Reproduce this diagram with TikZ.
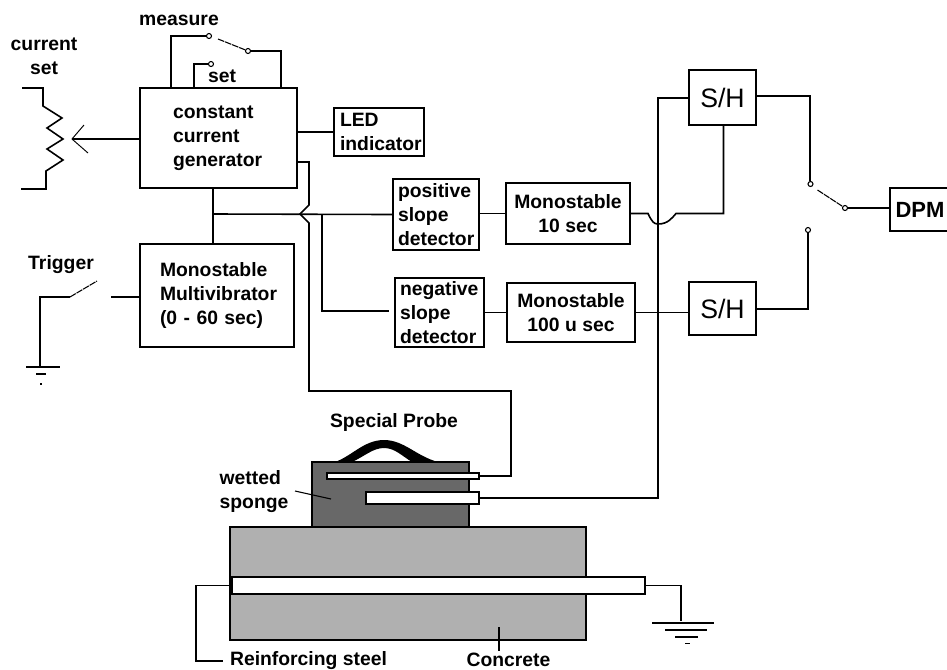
\documentclass[tikz,border=0pt]{standalone}
\usepackage{fontspec}
\setmainfont{Liberation Sans}
\usepackage{xcolor}
\usetikzlibrary{calc}
\definecolor{GrisEsponja}{RGB}{104,104,104}
\definecolor{GrisConcreto}{RGB}{176,176,176}
\def\px{0.75pt}
\tikzset{
  blok/.style={draw,line width=1.2pt,inner ysep=0pt,font=\fontsize{14.5}{18}\selectfont\bfseries},
  etiq/.style={inner sep=0pt,font=\fontsize{14.5}{18}\selectfont\bfseries,align=center},
  contacto/.style={circle,draw,line width=0.8pt,fill=white,inner sep=0pt,minimum size=5*\px},
  cable/.style={line width=1.2pt},
  cuchilla/.style={line width=0.8pt,dash pattern=on 5pt off 0.7pt},
  tierra/.style={line width=1.2pt}
}
\begin{document}
\begin{tikzpicture}[x=\px,y=-\px]
  \useasboundingbox (0,0) rectangle (947,669);
  % blocks
  \node[blok,align=left,minimum width=157*\px,minimum height=100*\px,text width=91*\px,inner xsep=33*\px] (ccg) at (218.5,138) {constant\\current\\generator};
  \node[blok,align=left,minimum width=90*\px,minimum height=48*\px,text width=78*\px,inner xsep=6*\px] (led) at (379,132) {LED\\indicator};
  \node[blok,align=left,minimum width=154*\px,minimum height=103*\px,text width=114*\px,inner xsep=20*\px] (multi) at (217,295.5) {Monostable\\Multivibrator\\(0 - 60 sec)};
  \node[blok,align=left,minimum width=86*\px,minimum height=71*\px,text width=76*\px,inner xsep=5*\px] (pos) at (436,214.5) {positive\\slope\\detector};
  \node[blok,align=left,minimum width=89*\px,minimum height=69*\px,text width=79*\px,inner xsep=5*\px] (neg) at (439.5,312.5) {negative\\slope\\detector};
  \node[blok,align=center,minimum width=124*\px,minimum height=61*\px] (monoa) at (568,213.5) {Monostable\\10 sec};
  \node[blok,align=center,minimum width=128*\px,minimum height=59*\px] (monob) at (571,312.5) {Monostable\\100 u sec};
  \node[blok,font=\fontsize{20}{24}\selectfont,minimum width=67*\px,minimum height=55*\px] (sha) at (722.5,97.5) {S/H};
  \node[blok,font=\fontsize{20}{24}\selectfont,minimum width=67*\px,minimum height=53*\px] (shb) at (722.5,308.5) {S/H};
  \node[blok,font=\fontsize{16.5}{20}\selectfont\bfseries,minimum width=60*\px,minimum height=43*\px] (dpm) at (920,209.5) {DPM};
  % probe and concrete
  \fill[draw=black,line width=1.2pt,fill=GrisConcreto] (230,527) rectangle (586,640);
  \fill[draw=black,line width=1.2pt,fill=GrisEsponja] (312,462) rectangle (469,527);
  \fill (335,462) .. controls (352,456) and (364,440) .. (384,440) .. controls (404,440) and (416,456) .. (438,462) -- (412,462) .. controls (402,456) and (395,448) .. (384,448) .. controls (373,448) and (365,456) .. (352,462) -- cycle;
  \node[draw,line width=0.9pt,fill=white,minimum width=152*\px,minimum height=6*\px,inner sep=0pt] (elea) at (403,476) {};
  \node[draw,line width=0.9pt,fill=white,minimum width=113*\px,minimum height=12*\px,inner sep=0pt] (eleb) at (422.5,498) {};
  \node[draw,line width=1.2pt,fill=white,minimum width=413*\px,minimum height=17*\px,inner sep=0pt] (acero) at (438.5,585.5) {};
  \draw[line width=2.4pt] (acero.north west) -- (acero.south west);
  % current set pot
  \coordinate (pa) at (22,88);
  \coordinate (pb) at (21,189);
  \coordinate (pm) at (72,139);
  \draw[cable] (pa) -- (43,88) -- (43,106) -- (62,118) -- (47,128) -- (63,139) -- (47,149) -- (63,160) -- (46,171) -- (46,189) -- (pb);
  \draw[cable] (ccg.west |- pm) -- (pm);
  \draw[line width=0.7pt] (84,125) -- (pm) -- (88,153);
  % measure / set switch
  \node[contacto] (cma) at (209,36) {};
  \node[contacto] (cmb) at (248,51) {};
  \node[contacto] (cset) at (211,64) {};
  \draw[cable] (ccg.north -| 171,0) -- (171,36) -- (cma);
  \draw[cable] (cmb) -- (281,51) -- (ccg.north -| 281,0);
  \draw[cable] (ccg.north -| 194,0) -- (194,64) -- (cset);
  \draw[cuchilla] (218,39) -- (cmb);
  % links
  \draw[cable] (ccg.east |- led.west) -- (led.west);
  \draw[cable] (ccg.south -| 213,0) -- (multi.north -| 213,0);
  \draw[cable] (213,214) -- (pos.west);
  \draw[cable] (322,214) -- (322,311) -- (389,311);
  \draw[cable] (296,162) -- (309,162) -- (309,205) -- (300,214) -- (309,223) -- (309,391) -- (511,391) -- (511,476) -- (elea.east);
  \draw[cable] (pos.east |- monoa.west) -- (monoa.west);
  \draw[cable] (neg.east) -- (monob.west |- neg.east);
  \draw[cable] (monoa.east) -- (648,213.5) .. controls (652,222) and (654,224) .. (658,224) .. controls (668,224) and (672,218) .. (676,213.5) -- (723.5,213.5) -- (sha.south -| 723.5,0);
  \draw[cable] (monob.east) -- (monob.east -| shb.west);
  \draw[cable] (sha.west |- 0,98) -- (658,98) -- (658,498) -- (eleb.east);
  \draw[cable] (sha.east |- 0,96) -- (810,96) -- (810,181);
  \node[contacto] (csa) at (810.5,184) {};
  \node[contacto] (csb) at (845,208) {};
  \node[contacto] (csc) at (808,230) {};
  \draw[cuchilla] (817.5,190) -- (csb);
  \draw[cable] (csb) -- (csb -| dpm.west);
  \draw[cable] (csc) -- (808,309) -- (shb.east |- 0,309);
  % trigger
  \node[etiq] (trig) at (61,265) {Trigger};
  \coordinate (ta) at (70,297);
  \coordinate (tb) at (97,281);
  \coordinate (tc) at (111,297);
  \draw[cable] (ta) -- (40,297) -- (40,367);
  \draw[cuchilla] (ta) -- (tb);
  \draw[cable] (tc) -- (tc -| multi.west);
  \draw[tierra] (26,367) -- (60,367) (36,374) -- (46,374) (40,384) -- (42,384);
  % ground and steel wires
  \draw[cable] (acero.west) -- (196,585.5) -- (196,661) -- (223,661);
  \draw[cable] (acero.east) -- (681,585.5) -- (681,621);
  \draw[tierra] (652,623) -- (714,623) (665,630) -- (707,630) (675,637) -- (698,637) (685,643.5) -- (690,643.5);
  \draw[cable] (499,627) -- (499,651);
  \draw[line width=0.8pt] (295,491) -- (331,499);
  % labels
  \node[etiq] (lmeas) at (179,20) {measure};
  \node[etiq] (lcurr) at (44,56) {current\\set};
  \node[etiq] (lset) at (222,76) {set};
  \node[etiq] (lprobe) at (394,422) {Special Probe};
  \node[etiq,align=left] (lsponge) at (254,492) {wetted\\sponge};
  \node[etiq] (lsteel) at (308.5,661) {Reinforcing steel};
  \node[etiq] (lconc) at (508.5,660) {Concrete};
\end{tikzpicture}
\end{document}
